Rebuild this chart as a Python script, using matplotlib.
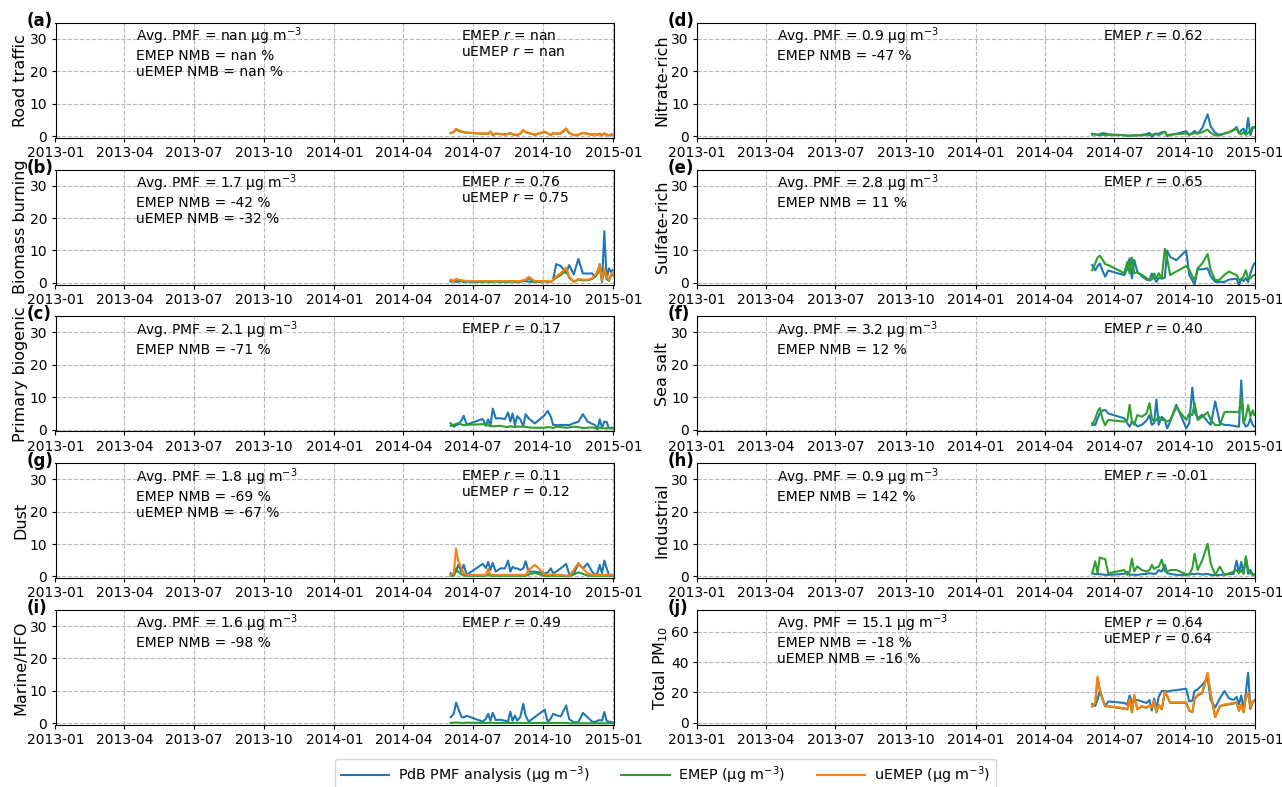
import numpy as np
import pandas as pd
import matplotlib.pyplot as plt

# ---------------------------------------------------------------------------
# Data
# ---------------------------------------------------------------------------
dates = pd.to_datetime([
    "2014-06-02", "2014-06-06", "2014-06-09", "2014-06-12", "2014-06-16",
    "2014-06-19", "2014-06-23", "2014-07-14", "2014-07-18", "2014-07-21",
    "2014-07-24", "2014-07-27", "2014-07-31", "2014-08-06", "2014-08-12",
    "2014-08-16", "2014-08-19", "2014-08-22", "2014-08-25", "2014-08-28",
    "2014-09-01", "2014-09-05", "2014-09-08", "2014-09-12", "2014-09-20",
    "2014-10-03", "2014-10-07", "2014-10-11", "2014-10-14", "2014-10-18",
    "2014-10-24", "2014-10-31", "2014-11-04", "2014-11-10", "2014-11-16",
    "2014-11-22", "2014-11-28", "2014-12-04", "2014-12-08", "2014-12-11",
    "2014-12-14", "2014-12-17", "2014-12-20", "2014-12-23", "2014-12-26",
    "2014-12-29", "2014-12-31",
])

# (a) Road traffic - no PMF factor
road_emep = [0.9, 1.2, 2.1, 1.6, 1.3, 1.2, 1.0, 0.7, 0.8, 0.6, 1.3, 0.3, 0.7, 0.6, 0.5, 0.6,
             0.9, 0.5, 0.4, 0.3, 0.7, 1.7, 1.2, 0.9, 0.4, 1.2, 0.8, 0.3, 0.9, 0.7, 0.8, 2.1,
             0.9, 0.3, 0.4, 0.9, 0.7, 0.4, 0.6, 0.3, 0.7, 0.2, 0.8, 0.4, 0.2, 0.5, 0.4]
road_uemep = [1.0, 1.3, 2.3, 1.8, 1.5, 1.3, 1.1, 0.8, 0.9, 0.7, 1.5, 0.4, 0.8, 0.7, 0.6, 0.7,
              1.0, 0.6, 0.5, 0.4, 0.8, 1.9, 1.3, 1.0, 0.5, 1.4, 0.9, 0.3, 1.0, 0.8, 0.9, 2.4,
              1.0, 0.3, 0.5, 1.0, 0.8, 0.5, 0.7, 0.4, 0.8, 0.2, 0.9, 0.5, 0.2, 0.6, 0.5]

# (b) Biomass burning
bb_pmf = [0.4, 0.5, 0.3, 0.4, 0.5, 0.3, 0.4, 0.3, 0.5, 0.4, 0.3, 0.4, 0.5, 0.3, 0.4, 0.3,
          0.4, 0.5, 0.3, 0.4, 0.3, 0.6, 0.5, 0.4, 0.3, 0.5, 0.4, 0.3, 1.0, 5.8, 5.2, 3.0,
          5.5, 2.6, 7.4, 2.9, 2.9, 2.9, 1.8, 3.5, 5.8, 0.3, 16.0, 1.0, 4.5, 3.3, 4.0]
bb_emep = [0.8, 0.5, 1.0, 0.8, 0.7, 0.6, 0.5, 0.4, 0.4, 0.5, 0.4, 0.4, 0.5, 0.4, 0.4, 0.5,
           0.4, 0.4, 0.5, 0.4, 0.5, 0.7, 0.8, 1.4, 0.4, 0.5, 0.3, 0.3, 0.8, 1.6, 2.4, 3.8,
           1.6, 0.3, 1.0, 0.8, 0.8, 1.2, 2.0, 2.8, 4.5, 0.6, 3.6, 1.6, 0.6, 2.4, 2.3]
bb_uemep = [1.0, 0.6, 1.2, 1.0, 0.8, 0.7, 0.6, 0.5, 0.5, 0.6, 0.5, 0.5, 0.6, 0.5, 0.5, 0.6,
            0.5, 0.5, 0.6, 0.5, 0.6, 0.8, 1.0, 1.9, 0.5, 0.6, 0.4, 0.3, 1.0, 2.0, 3.0, 4.7,
            2.0, 0.3, 1.2, 1.0, 1.0, 1.5, 2.4, 3.5, 5.5, 0.8, 4.5, 2.0, 0.8, 3.0, 2.9]

# (c) Primary biogenic
pbio_pmf = [2.0, 0.9, 1.4, 1.6, 2.8, 4.3, 1.6, 3.3, 1.2, 3.2, 1.0, 6.5, 3.5, 3.5, 3.3, 5.3,
            2.5, 5.0, 1.4, 4.2, 3.2, 1.0, 4.8, 3.5, 1.9, 4.5, 5.8, 4.0, 1.5, 1.4, 1.4, 1.5,
            1.4, 2.0, 2.4, 4.8, 2.5, 1.8, 1.4, 0.0, 3.2, 0.6, 2.5, 2.4, 0.4, 0.6, 0.6]
pbio_emep = [1.2, 1.5, 1.8, 2.0, 1.6, 1.4, 1.5, 1.7, 1.5, 1.3, 1.2, 1.0, 1.1, 1.2, 0.9, 0.8,
             1.1, 0.9, 0.8, 1.0, 0.9, 1.0, 0.8, 0.7, 0.6, 0.6, 0.8, 0.7, 0.5, 0.9, 0.8, 0.6,
             0.7, 0.9, 0.8, 0.5, 0.6, 0.7, 0.5, 0.4, 0.6, 0.5, 0.4, 0.4, 0.5, 0.4, 0.4]

# (d) Nitrate-rich
nit_pmf = [0.7, 0.5, 0.4, 0.6, 0.9, 0.8, 0.5, 0.3, 0.0, 0.2, 0.1, 0.3, 0.2, 0.4, 0.6, 1.0,
           -0.3, 0.6, 0.8, 0.7, 1.2, 1.3, 0.0, 0.4, 0.7, 1.5, 0.3, 1.0, 1.6, 0.7, 2.5, 6.7,
           3.0, 1.0, 0.2, 0.8, 1.2, 2.0, 2.8, 0.8, 1.8, 2.3, 0.4, 5.6, 0.3, 2.5, 2.8]
nit_emep = [0.4, 0.6, 0.4, 0.3, 0.4, 0.3, 0.4, 0.3, 0.2, 0.1, 0.2, 0.1, 0.3, 0.2, 0.4, 0.3,
            0.5, 0.4, 0.6, 0.3, 0.8, 1.4, 0.3, 0.4, 0.6, 0.8, 0.5, 0.7, 0.9, 0.8, 1.2, 2.0,
            1.0, 0.2, 0.5, 0.8, 1.2, 1.8, 2.3, 1.0, 0.5, 1.2, 0.5, 1.0, 1.8, 2.8, 2.6]

# (e) Sulfate-rich
sulf_pmf = [5.5, 3.9, 5.1, 6.0, 3.5, 1.9, 3.8, 2.4, 4.4, 7.6, 1.4, 7.1, 3.5, 2.0, 1.0, 0.8,
            2.9, 1.5, 0.3, 1.5, 1.3, 1.6, 10.0, 8.0, 7.0, 10.0, 2.4, 0.8, -0.5, 4.2, 4.2, 4.5,
            2.0, 0.3, 0.3, 0.3, 1.0, 1.2, 1.3, -0.7, 1.4, 0.5, 1.5, 0.3, 2.9, 5.0, 6.0]
sulf_emep = [3.9, 6.0, 7.8, 8.4, 7.0, 5.8, 5.5, 3.0, 6.5, 2.9, 7.8, 3.0, 3.2, 2.5, 1.5, 0.8,
             1.0, 2.9, 1.3, 3.0, 1.4, 10.5, 7.5, 2.4, 3.5, 5.2, 4.0, 2.0, 0.8, 4.5, 6.0, 8.9,
             4.0, 0.8, 1.0, 2.5, 3.5, 2.8, 2.4, 1.0, 0.8, 2.0, 3.9, 1.5, 1.4, 2.2, 2.4]

# (f) Sea salt
salt_pmf = [2.0, 1.4, 3.5, 5.0, 6.0, 6.1, 5.0, 3.5, 2.0, 0.9, 2.5, 2.2, 1.0, 1.5, 2.8, 4.5,
            1.5, 2.0, 9.3, 1.5, 4.0, 3.0, 0.4, 2.5, 7.7, 0.4, 2.0, 13.0, 5.6, 3.5, 4.6, 2.5,
            1.5, 8.7, 2.0, 1.5, 1.4, 1.2, 1.0, 0.9, 15.2, 2.5, 0.9, 1.5, 3.5, 1.4, 1.0]
salt_emep = [1.4, 3.5, 5.5, 6.7, 3.0, 1.4, 3.0, 2.5, 3.0, 7.7, 2.5, 1.5, 4.5, 4.0, 5.0, 8.2,
             3.5, 2.5, 3.0, 4.0, 3.0, 3.0, 2.5, 3.0, 6.9, 3.0, 5.0, 4.5, 8.2, 3.0, 4.0, 5.4,
             3.0, 1.4, 1.4, 5.4, 5.5, 5.5, 5.4, 5.4, 10.0, 2.0, 4.0, 7.6, 4.0, 6.0, 4.5]

# (g) Dust
dust_pmf = [1.0, 0.5, 1.5, 3.6, 1.5, 3.6, 0.5, 3.9, 2.6, 4.5, 2.0, 4.2, 1.5, 2.5, 2.5, 4.9,
            1.5, 3.0, 2.5, 2.5, 2.0, 2.5, 4.7, 1.5, 1.5, 1.0, 1.2, 2.5, 1.0, 1.5, 2.5, 3.9,
            0.7, 0.8, 3.9, 2.5, 4.0, 1.5, 0.5, 1.0, 3.6, 1.0, 4.9, 2.6, 0.5, 0.5, 0.5]
dust_emep = [0.2, 0.3, 2.5, 1.4, 0.7, 0.3, 0.2, 0.2, 0.2, 0.7, 0.2, 0.2, 0.2, 0.2, 0.2, 0.2,
             0.2, 0.2, 0.2, 0.2, 0.2, 0.2, 0.2, 0.6, 1.1, 0.2, 0.2, 0.2, 0.2, 0.2, 0.2, 0.1,
             0.1, 0.6, 1.3, 0.8, 0.3, 0.2, 0.2, 0.2, 0.2, 0.2, 0.2, 0.2, 0.2, 0.2, 0.2]
dust_uemep = [0.5, 1.0, 8.6, 4.7, 2.5, 1.0, 0.5, 0.5, 0.5, 2.3, 0.5, 0.5, 0.5, 0.5, 0.5, 0.5,
              0.5, 0.5, 0.5, 0.5, 0.5, 0.5, 0.5, 2.0, 3.6, 0.7, 0.5, 0.6, 0.7, 0.5, 0.5, 0.3,
              0.2, 2.0, 4.2, 2.5, 1.0, 0.5, 0.5, 0.5, 0.5, 0.5, 0.5, 0.5, 0.5, 0.5, 0.5]

# (h) Industrial
ind_pmf = [1.0, 0.7, 0.8, 0.7, 0.6, 0.5, 0.5, 0.8, 1.5, 0.5, 0.6, 0.5, 0.5, 0.7, 0.8, 1.0,
           0.9, 0.8, 1.0, 2.0, 1.5, 3.6, 1.0, 0.8, 0.5, 0.5, 0.6, 0.8, 0.7, 0.9, 0.6, 0.8,
           0.5, 0.4, 0.5, 0.6, 0.7, 0.8, 4.9, 1.0, 4.5, 1.0, 5.7, 0.8, 2.0, 0.6, 0.7]
ind_emep = [1.0, 4.7, 1.0, 5.9, 5.5, 5.4, 1.0, 2.0, 0.5, 1.5, 5.5, 1.6, 3.1, 2.0, 1.5, 2.0,
            3.6, 2.3, 2.8, 3.0, 5.2, 1.6, 1.5, 2.0, 2.0, 0.7, 0.7, 2.5, 7.0, 2.0, 5.0, 10.1,
            4.0, 0.5, 3.0, 0.5, 1.0, 1.5, 2.0, 1.0, 2.0, 0.8, 6.2, 2.1, 1.0, 0.5, 0.5]

# (i) Marine/HFO
hfo_pmf = [1.9, 2.9, 6.4, 4.5, 2.0, 1.8, 2.3, 0.5, 1.4, 2.9, 0.8, 3.2, 1.0, 1.1, 0.8, 0.5,
           3.6, 0.8, 2.4, 0.8, 1.9, 6.0, 2.4, 0.5, 1.9, 4.2, 0.3, 1.5, 2.9, 2.5, 2.1, 5.5,
           1.3, 0.3, 0.3, 3.2, 1.9, 0.5, 0.4, 0.8, 1.0, 0.8, 3.5, 0.8, 0.5, 0.3, 0.3]
hfo_emep = [0.1, 0.2, 0.2, 0.2, 0.1, 0.1, 0.2, 0.1, 0.1, 0.1, 0.2, 0.1, 0.1, 0.1, 0.1, 0.1,
            0.1, 0.1, 0.1, 0.1, 0.1, 0.1, 0.1, 0.1, 0.1, 0.1, 0.1, 0.1, 0.1, 0.1, 0.1, 0.1,
            0.0, 0.0, 0.0, 0.0, 0.0, 0.0, 0.0, 0.0, 0.0, 0.0, 0.0, 0.0, 0.0, 0.0, 0.0]

# (j) Total PM10
tot_pmf = [12.3, 11.0, 15.0, 20.9, 15.0, 11.0, 14.0, 13.0, 12.0, 18.0, 13.0, 14.5, 15.0, 14.0,
           13.0, 15.0, 8.0, 16.0, 9.0, 17.0, 20.9, 21.0, 20.5, 21.0, 21.5, 22.4, 14.0, 14.5,
           21.0, 22.0, 25.0, 29.5, 15.0, 10.0, 16.0, 20.9, 16.0, 15.0, 17.0, 12.0, 18.0, 9.0,
           20.0, 33.0, 9.0, 14.0, 14.5]
tot_emep = [10.7, 12.6, 29.5, 21.3, 14.6, 10.7, 10.7, 9.2, 8.7, 15.0, 6.8, 17.9, 8.7, 10.7,
            9.7, 11.2, 9.7, 14.1, 6.8, 11.6, 8.7, 19.9, 17.5, 13.1, 13.1, 13.1, 7.8, 6.8,
            15.5, 17.9, 19.4, 32.0, 18.4, 3.6, 10.7, 11.6, 12.1, 12.6, 13.1, 7.8, 11.6, 6.8,
            16.5, 19.4, 9.7, 13.6, 14.6]
tot_uemep = [11.0, 13.0, 30.5, 22.0, 15.0, 11.0, 11.0, 9.5, 9.0, 15.5, 7.0, 18.5, 9.0, 11.0,
             10.0, 11.5, 10.0, 14.5, 7.0, 12.0, 9.0, 20.5, 18.0, 13.5, 13.5, 13.5, 8.0, 7.0,
             16.0, 18.5, 20.0, 33.0, 19.0, 3.7, 11.0, 12.0, 12.5, 13.0, 13.5, 8.0, 12.0, 7.0,
             17.0, 20.0, 10.0, 14.0, 15.0]

panel_labels = ["(a)", "(b)", "(c)", "(g)", "(i)", "(d)", "(e)", "(f)", "(h)", "(j)"]
ylabels = ["Road traffic", "Biomass burning", "Primary biogenic", "Dust", "Marine/HFO",
           "Nitrate-rich", "Sulfate-rich", "Sea salt", "Industrial", "Total PM$_{10}$"]
stats_left = [
    "Avg. PMF = nan µg m$^{-3}$\nEMEP NMB = nan %\nuEMEP NMB = nan %",
    "Avg. PMF = 1.7 µg m$^{-3}$\nEMEP NMB = -42 %\nuEMEP NMB = -32 %",
    "Avg. PMF = 2.1 µg m$^{-3}$\nEMEP NMB = -71 %",
    "Avg. PMF = 1.8 µg m$^{-3}$\nEMEP NMB = -69 %\nuEMEP NMB = -67 %",
    "Avg. PMF = 1.6 µg m$^{-3}$\nEMEP NMB = -98 %",
    "Avg. PMF = 0.9 µg m$^{-3}$\nEMEP NMB = -47 %",
    "Avg. PMF = 2.8 µg m$^{-3}$\nEMEP NMB = 11 %",
    "Avg. PMF = 3.2 µg m$^{-3}$\nEMEP NMB = 12 %",
    "Avg. PMF = 0.9 µg m$^{-3}$\nEMEP NMB = 142 %",
    "Avg. PMF = 15.1 µg m$^{-3}$\nEMEP NMB = -18 %\nuEMEP NMB = -16 %",
]
stats_right = [
    "EMEP $r$ = nan\nuEMEP $r$ = nan",
    "EMEP $r$ = 0.76\nuEMEP $r$ = 0.75",
    "EMEP $r$ = 0.17",
    "EMEP $r$ = 0.11\nuEMEP $r$ = 0.12",
    "EMEP $r$ = 0.49",
    "EMEP $r$ = 0.62",
    "EMEP $r$ = 0.65",
    "EMEP $r$ = 0.40",
    "EMEP $r$ = -0.01",
    "EMEP $r$ = 0.64\nuEMEP $r$ = 0.64",
]

series = [
    (None, road_emep, road_uemep),
    (bb_pmf, bb_emep, bb_uemep),
    (pbio_pmf, pbio_emep, None),
    (dust_pmf, dust_emep, dust_uemep),
    (hfo_pmf, hfo_emep, None),
    (nit_pmf, nit_emep, None),
    (sulf_pmf, sulf_emep, None),
    (salt_pmf, salt_emep, None),
    (ind_pmf, ind_emep, None),
    (tot_pmf, tot_emep, tot_uemep),
]

# ---------------------------------------------------------------------------
# Figure
# ---------------------------------------------------------------------------
W, H = 1282, 787
fig = plt.figure(figsize=(W / 100, H / 100), dpi=100)

col_x = [55.5, 697]
ax_w = 558
row_top = [22.7 + 146.8 * k for k in range(5)]
ax_h = 115

handles = None
for i in range(10):
    col, row = divmod(i, 5)
    ax = fig.add_axes([col_x[col] / W, 1 - (row_top[row] + ax_h) / H, ax_w / W, ax_h / H])
    pmf, emep, uemep = series[i]
    lines = []
    if pmf is not None:
        lines += ax.plot(dates, pmf, color="tab:blue", lw=1.5)
    if emep is not None:
        lines += ax.plot(dates, emep, color="tab:green", lw=1.5)
    if uemep is not None:
        lines += ax.plot(dates, uemep, color="tab:orange", lw=1.5)

    ax.set_xlim(pd.Timestamp("2013-01-01"), pd.Timestamp("2015-01-01"))
    if i == 9:
        ax.set_ylim(-1.5, 74.5)
        ax.set_yticks([0, 20, 40, 60])
    else:
        ax.set_ylim(-0.5, 35)
        ax.set_yticks([0, 10, 20, 30])
    ticks = pd.date_range("2013-01-01", "2015-01-01", freq="3MS")
    ax.set_xticks(ticks)
    ax.set_xticklabels([t.strftime("%Y-%m") for t in ticks])
    ax.tick_params(labelsize=10, length=3, pad=3)
    ax.grid(True, linestyle="--", color="#b0b0b0", alpha=0.9, lw=0.8)
    ax.set_ylabel(ylabels[i], fontsize=11.5)
    ax.yaxis.set_label_coords(-0.049, 0.5)

    ax.text(0.144, 0.975, stats_left[i], transform=ax.transAxes, va="top", ha="left",
            fontsize=10, linespacing=1.18)
    ax.text(0.727, 0.949, stats_right[i], transform=ax.transAxes, va="top", ha="left",
            fontsize=10, linespacing=1.18)
    ax.text(-0.052, 1.017, panel_labels[i], transform=ax.transAxes, va="center", ha="left",
            fontsize=12, fontweight="bold")

    if i == 1:
        handles = lines

fig.legend(handles,
           ["PdB PMF analysis (µg m$^{-3}$)", "EMEP (µg m$^{-3}$)", "uEMEP (µg m$^{-3}$)"],
           loc="lower center", ncol=3, fontsize=10.3, bbox_to_anchor=(0.519, -0.015),
           handlelength=3.4, handletextpad=0.6, columnspacing=2.2,
           frameon=True, edgecolor="#cccccc")

fig.savefig("out.png", dpi=100)
